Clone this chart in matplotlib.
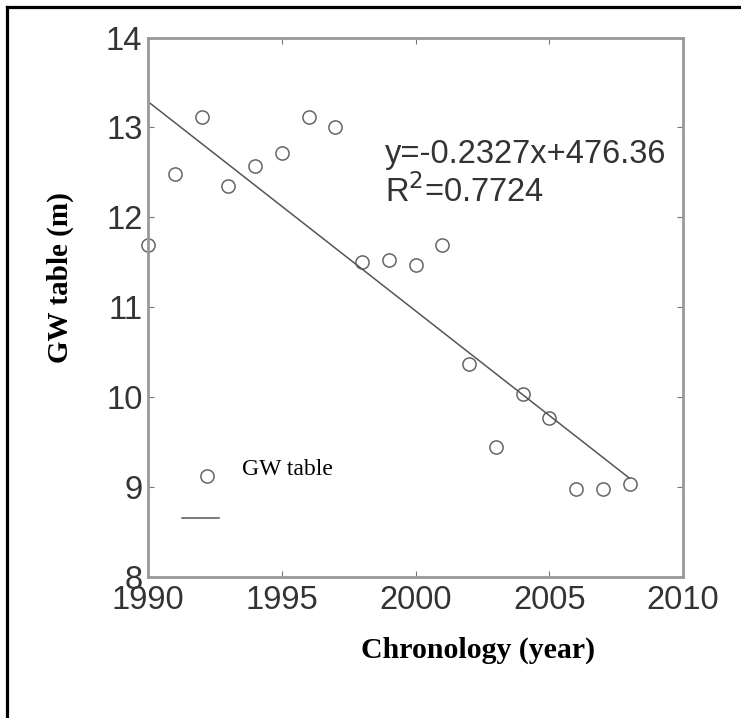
import matplotlib
matplotlib.use("Agg")
import matplotlib.pyplot as plt
from matplotlib.lines import Line2D

years = [1990, 1991, 1992, 1993, 1994, 1995, 1996, 1997, 1998, 1999,
         2000, 2001, 2002, 2003, 2004, 2005, 2006, 2007, 2008]
gw_table = [11.69, 12.48, 13.12, 12.35, 12.57, 12.72, 13.12, 13.01, 11.50, 11.53,
            11.47, 11.69, 10.37, 9.45, 10.03, 9.77, 8.98, 8.98, 9.03]
slope = -0.2327
intercept = 476.36
r2 = 0.7724
xticks = [1990, 1995, 2000, 2005, 2010]
yticks = [8, 9, 10, 11, 12, 13, 14]

W, H = 741, 718
fig = plt.figure(figsize=(W / 100, H / 100), dpi=100)
# partial outer frame (left and top)
fig.add_artist(Line2D([6.5 / W, 6.5 / W], [0.0, 1 - 6.5 / H], color="black", lw=2.3, transform=fig.transFigure))
fig.add_artist(Line2D([6.5 / W, 1.0], [1 - 6.5 / H, 1 - 6.5 / H], color="black", lw=2.3, transform=fig.transFigure))

ax = fig.add_axes([148 / W, 1 - 577 / H, 535 / W, 539.5 / H])
ax.plot(years, gw_table, linestyle="none", marker="o", markersize=9.5,
        markerfacecolor="none", markeredgecolor="#666666", markeredgewidth=1.1, clip_on=False)
fx = [years[0], years[-1]]
fy = [slope * x + intercept for x in fx]
ax.plot(fx, fy, color="#555555", lw=1.1)

ax.set_xlim(1990, 2010)
ax.set_ylim(8, 14)
ax.set_xticks(xticks)
ax.set_yticks(yticks)
for s in ax.spines.values():
    s.set_color("#999999")
    s.set_linewidth(2)
ax.tick_params(direction="in", length=4, color="#777777", labelcolor="#333333",
               labelsize=23.5, top=True, right=True)
ax.tick_params(axis="x", pad=6)
ax.tick_params(axis="y", pad=4)
for lab in ax.get_xticklabels() + ax.get_yticklabels():
    lab.set_family("Liberation Sans")

eq_x = 1990 + (385 - 148) / 26.75
ax.text(eq_x, 14 - (163 - 37.7) / 89.9, "y=-0.2327x+476.36", fontsize=23.5, family="Liberation Sans",
        color="#333333", va="baseline", ha="left")
ax.text(eq_x, 14 - (202 - 37.7) / 89.9, "R$^2$=0.7724", fontsize=23.5, family="Liberation Sans",
        color="#333333", va="baseline", ha="left")

# legend-like items
ax.plot([1992.2], [9.12], linestyle="none", marker="o", markersize=9.5,
        markerfacecolor="none", markeredgecolor="#666666", markeredgewidth=1.1)
ax.plot([1991.27, 1992.65], [8.66, 8.66], color="#555555", lw=1.1)
ax.text(1993.5, 9.2, "GW table", fontsize=17, family="Liberation Serif", va="center", ha="left")

ax.set_xlabel("Chronology (year)", fontsize=21.5, family="Liberation Serif", fontweight="bold")
ax.xaxis.set_label_coords((478 - 148) / 535, -(650 - 577) / 539.5)
ax.xaxis.label.set_va("center")
ax.set_ylabel("GW table (m)", fontsize=21, family="Liberation Serif", fontweight="bold")
ax.yaxis.set_label_coords(-(148 - 60) / 535, (577 - 278) / 539.5)
ax.yaxis.label.set_va("center")

fig.savefig("out.png", dpi=100)
